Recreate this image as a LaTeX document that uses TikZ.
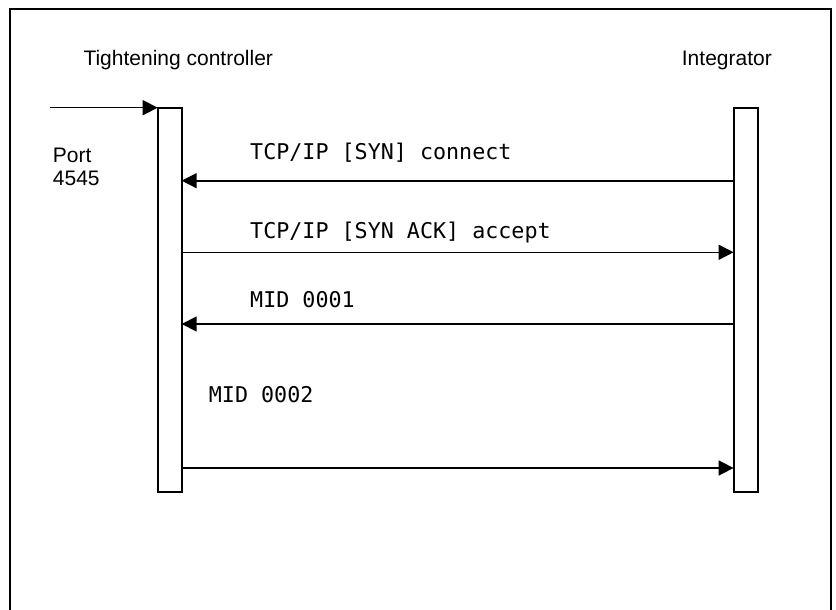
\documentclass[tikz,border=0pt]{standalone}
\usepackage{fontspec}
\setmainfont{Liberation Sans}
\newfontfamily\monofont{DejaVu Sans Mono}
\usetikzlibrary{arrows.meta}
\begin{document}
\begin{tikzpicture}[x=1pt,y=-1pt,
  lane/.style={draw=black, line width=1.8pt, fill=white, minimum width=24pt, minimum height=384.6pt, inner sep=0pt, outer sep=0pt},
  msg/.style={line width=1.6pt, -{Triangle[length=15pt,width=15pt]}},
  sanslabel/.style={anchor=base west, inner sep=0pt, font=\fontsize{21}{25}\selectfont},
  monolabel/.style={anchor=base west, inner sep=0pt, font=\monofont\fontsize{21.7}{26}\selectfont}]
\useasboundingbox (0,0) rectangle (836,610);
\begin{scope}
\clip (0,0) rectangle (836,610);
\draw[line width=1.8pt] (10,620) -- (10,9) -- (831,9) -- (831,620);
\end{scope}
% titles
\node[sanslabel] (tc) at (83.3,65.7) {Tightening controller};
\node[sanslabel] (ig) at (681.7,65.3) {Integrator};
\node[sanslabel] (port) at (52.7,162) {Port};
\node[sanslabel] (portnum) at (52.7,185.7) {4545};
% lifelines
\node[lane] (L) at (169.7,300) {};
\node[lane] (R) at (745.6,300) {};
% port arrow
\coordinate (pstart) at (50,107.7);
\draw[msg] (pstart) -- (L.north west);
% messages
\draw[msg] (R.west |- 0,180.7) -- (L.east |- 0,180.7);
\draw[msg] (L.east |- 0,252.3) -- (R.west |- 0,252.3);
\draw[msg] (R.west |- 0,324) -- (L.east |- 0,324);
\draw[msg] (L.east |- 0,468) -- (R.west |- 0,468);
% labels
\node[monolabel] (m1) at (250,159.3) {TCP/IP [SYN] connect};
\node[monolabel] (m2) at (250,238.3) {TCP/IP [SYN ACK] accept};
\node[monolabel] (m3) at (250,307.3) {MID 0001};
\node[monolabel] (m4) at (208.7,402.3) {MID 0002};
\end{tikzpicture}
\end{document}
